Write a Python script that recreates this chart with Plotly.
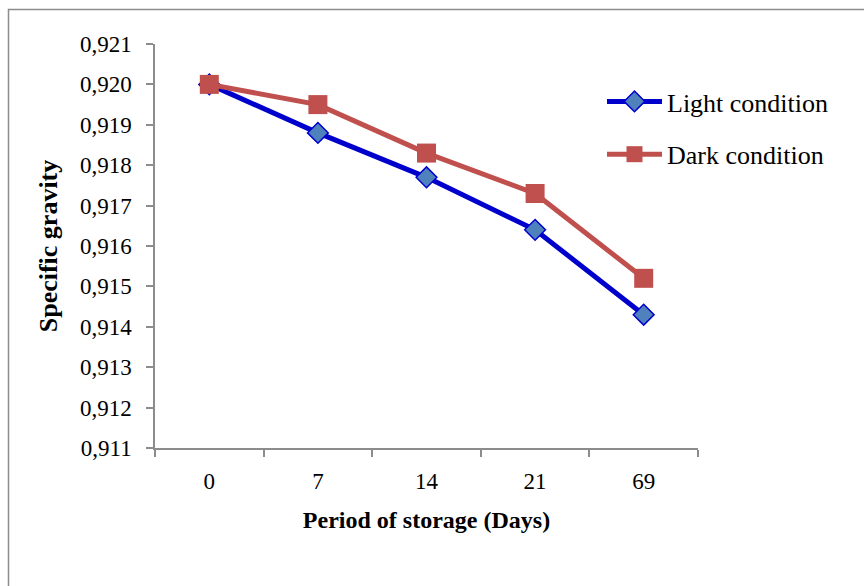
import plotly.graph_objects as go

# Storage period (days) and measured specific gravity
days = ["0", "7", "14", "21", "69"]
light_condition = [0.9200, 0.9188, 0.9177, 0.9164, 0.9143]
dark_condition = [0.9200, 0.9195, 0.9183, 0.9173, 0.9152]
y_ticks = [0.911, 0.912, 0.913, 0.914, 0.915, 0.916, 0.917, 0.918, 0.919, 0.920, 0.921]
y_tick_labels = [f"{v:.3f}".replace(".", ",") for v in y_ticks]

FONT = "Liberation Serif, Times New Roman, serif"
W, H = 864, 586
L, R, T, B = 155, 166, 44, 138
pw, ph = W - L - R, H - T - B

fig = go.Figure()
fig.add_trace(go.Scatter(
    x=days, y=light_condition, name="Light condition", mode="lines+markers",
    legendgroup="light",
    line=dict(color="#0000CC", width=5),
    marker=dict(symbol="diamond", size=16, color="#4F81BD",
                line=dict(color="#0000CC", width=1.5)),
))
fig.add_trace(go.Scatter(
    x=days, y=dark_condition, name="Dark condition", mode="lines+markers",
    legendgroup="dark",
    line=dict(color="#C0504D", width=5),
    marker=dict(symbol="square", size=19, color="#C0504D",
                line=dict(color="#C0504D", width=0)),
))

# Outer chart frame (left and top edges visible)
def px_x(x):
    return (x - L) / pw

def px_y(y):
    return (H - B - y) / ph

fig.add_shape(type="rect", xref="paper", yref="paper",
              x0=px_x(8.5), x1=px_x(880), y0=px_y(600), y1=px_y(9.5),
              line=dict(color="#8C8C8C", width=1.5), fillcolor="rgba(0,0,0,0)",
              layer="below")

fig.update_layout(
    width=W, height=H,
    margin=dict(l=L, r=R, t=T, b=B),
    paper_bgcolor="white", plot_bgcolor="white",
    font=dict(family=FONT, size=23, color="black"),
    showlegend=True,
    legend=dict(x=px_x(602), y=px_y(78), xanchor="left", yanchor="top",
                font=dict(family=FONT, size=26, color="black"),
                traceorder="grouped", tracegroupgap=16, itemwidth=55,
                bgcolor="rgba(0,0,0,0)"),
    xaxis=dict(
        type="category", range=[-0.5, 4.5],
        showline=True, linecolor="#8C8C8C", linewidth=1.5,
        ticks="outside", tickson="boundaries", ticklen=7, tickcolor="#8C8C8C",
        tickwidth=1.5, showgrid=False, zeroline=False,
        tickfont=dict(family=FONT, size=23), ticklabelstandoff=12,
        title=dict(text="<b>Period of storage (Days)</b>", standoff=18,
                   font=dict(family=FONT, size=24)),
    ),
    yaxis=dict(
        range=[0.911, 0.921], tickvals=y_ticks, ticktext=y_tick_labels,
        showline=True, linecolor="#8C8C8C", linewidth=1.5,
        ticks="outside", ticklen=7, tickcolor="#8C8C8C", tickwidth=1.5,
        showgrid=False, zeroline=False,
        tickfont=dict(family=FONT, size=23), ticklabelstandoff=10,
        title=dict(text="<b>Specific gravity</b>", standoff=15,
                   font=dict(family=FONT, size=26)),
    ),
)

fig.write_html("out.html")
